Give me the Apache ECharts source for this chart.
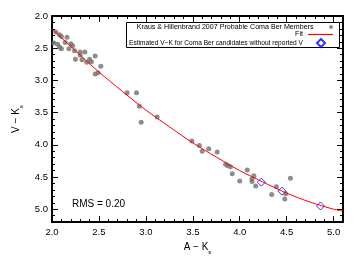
<!DOCTYPE html>
<html>
<head>
<meta charset="utf-8">
<script src="https://cdn.jsdelivr.net/npm/echarts@6/dist/echarts.min.js"></script>
<style>
html,body{margin:0;padding:0;background:#fff;}
#chart{width:360px;height:260px;}
</style>
</head>
<body>
<div id="chart"></div>
<script>
// ---- data ----
const membersName = 'Kraus & Hillenbrand 2007 Probable Coma Ber Members';
const fitName = 'Fit';
const estName = 'Estimated V\u2212K for Coma Ber candidates without reported V';

const memberAK = [2.04,2.08,2.10,2.02,2.06,2.08,2.10,2.14,2.16,2.20,2.22,2.18,2.24,2.30,2.35,2.30,2.25,2.32,2.37,2.40,2.42,2.46,2.46,2.49,2.52,
  2.80,2.90,2.93,2.95,3.12,
  3.49,3.57,3.60,3.67,3.76,3.85,3.87,3.90,3.92,4.00,4.08,4.13,4.15,4.13,4.17,4.39,4.34,4.48,4.49,4.54];
const memberVK = [2.25,2.29,2.32,2.42,2.44,2.48,2.51,2.41,2.33,2.43,2.46,2.51,2.54,2.56,2.56,2.61,2.67,2.68,2.72,2.67,2.71,2.62,2.90,2.88,2.78,
  3.19,3.19,3.40,3.65,3.57,
  3.94,4.01,4.10,4.06,4.11,4.30,4.32,4.34,4.45,4.56,4.39,4.53,4.48,4.57,4.64,4.65,4.77,4.84,4.76,4.52];

const fitAK = [2.00,2.25,2.50,2.75,3.00,3.25,3.50,3.75,4.00,4.25,4.50,4.75,5.00,5.10];
const fitVK = [2.20,2.54,2.87,3.17,3.46,3.72,3.97,4.19,4.40,4.58,4.75,4.89,5.00,5.03];

const estAK = [4.23,4.45,4.86];
const estVK = [4.58,4.72,4.95];

const xTicks = [2.0,2.5,3.0,3.5,4.0,4.5,5.0];
const yTicks = [2.0,2.5,3.0,3.5,4.0,4.5,5.0];
const rmsText = 'RMS = 0.20';

// ---- chart ----
const FONT = 'Liberation Sans';
const zip = (a, b) => a.map((v, i) => [v, b[i]]);

function axes(kind, position, ticks, min, max, showLabels, extra) {
  const major = Object.assign({
    type: 'value', position: position, min: min, max: max, gridIndex: 0,
    inverse: kind === 'y',
    axisLine: {show: true, onZero: false, lineStyle: {color: '#000', width: 2}},
    axisTick: {show: true, inside: true, length: 6, customValues: ticks, lineStyle: {color: '#000', width: 1}},
    axisLabel: {show: showLabels, customValues: ticks, margin: kind === 'y' ? 4 : 5,
      color: '#000', fontFamily: FONT, fontSize: 9.5,
      formatter: v => Number(v).toFixed(1)},
    splitLine: {show: false}
  }, extra || {});
  const minor = {
    type: 'value', position: position, min: min, max: max, interval: 0.1, gridIndex: 0,
    inverse: kind === 'y',
    axisLine: {show: false, onZero: false},
    axisTick: {show: true, inside: true, length: 3, lineStyle: {color: '#000', width: 1}},
    axisLabel: {show: false},
    splitLine: {show: false}
  };
  return [major, minor];
}

const subRich = {s: {fontSize: 6, fontFamily: FONT, color: '#000', verticalAlign: 'bottom', padding: [0, 0, -3, 0]}};
const xAxis = [].concat(
  axes('x', 'bottom', xTicks, 2.0, 5.1, true, {
    name: 'A \u2212 K{s|s}', nameLocation: 'middle', nameGap: 15,
    nameTextStyle: {color: '#000', fontFamily: FONT, fontSize: 10, rich: subRich}
  }),
  axes('x', 'top', xTicks, 2.0, 5.1, false)
);
const yAxis = [].concat(
  axes('y', 'left', yTicks, 2.0, 5.2, true, {
    name: 'V \u2212 K{s|s}', nameLocation: 'middle', nameGap: 20, nameRotate: 90,
    nameTextStyle: {color: '#000', fontFamily: FONT, fontSize: 10, rich: subRich}
  }),
  axes('y', 'right', yTicks, 2.0, 5.2, false)
);

const legendText = {fontFamily: FONT, fontSize: 7.1, color: '#000', lineHeight: 7};
const option = {
  animation: false,
  backgroundColor: '#fff',
  grid: {left: 52, right: 17, top: 16, bottom: 34, containLabel: false},
  xAxis: xAxis,
  yAxis: yAxis,
  legend: [
    {data: [{name: membersName, icon: 'circle'}], right: 27, top: 23.5, align: 'right', orient: 'vertical', padding: 0,
     itemWidth: 25, itemHeight: 4, selectedMode: false, textStyle: legendText},
    {data: [{name: fitName, icon: 'rect'}], right: 27, top: 31, align: 'right', orient: 'vertical', padding: 0,
     itemWidth: 25, itemHeight: 1.2, selectedMode: false, textStyle: legendText},
    {data: [{name: estName, icon: 'diamond'}], right: 34, top: 38, align: 'right', orient: 'vertical', padding: 0,
     itemWidth: 8, itemHeight: 8, selectedMode: false,
     textStyle: Object.assign({}, legendText, {fontSize: 6.6, padding: [0, 9, 0, 0]})}
  ],
  graphic: [
    {type: 'rect', shape: {x: 126.5, y: 22.5, width: 213, height: 25},
     style: {fill: 'none', stroke: '#000', lineWidth: 1}, silent: true},
    {type: 'text', left: 72, top: 199,
     style: {text: rmsText, fill: '#000', font: '10px "Liberation Sans"'}}
  ],
  series: [
    {name: membersName, type: 'scatter', xAxisIndex: 0, yAxisIndex: 0,
     data: zip(memberAK, memberVK), symbol: 'circle', symbolSize: 5,
     itemStyle: {color: '#707070'}},
    {name: fitName, type: 'line', xAxisIndex: 0, yAxisIndex: 0,
     data: zip(fitAK, fitVK), smooth: 0.3, symbol: 'none', showSymbol: false,
     lineStyle: {color: '#ff0000', width: 1}, itemStyle: {color: '#ff0000'}},
    {name: estName, type: 'scatter', xAxisIndex: 0, yAxisIndex: 0,
     data: zip(estAK, estVK), symbol: 'diamond', symbolSize: 8,
     itemStyle: {color: 'rgba(255,255,255,0)', borderColor: '#0000ff', borderWidth: 1}}
  ]
};
const chart = echarts.init(document.getElementById('chart'), null, {renderer: 'canvas'});
chart.setOption(option);
</script>
</body>
</html>
